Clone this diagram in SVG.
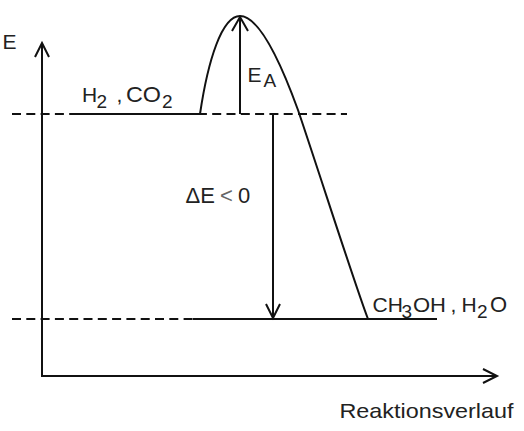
<svg xmlns="http://www.w3.org/2000/svg" width="524" height="431" viewBox="0 0 524 431">
<style>
.ln{stroke:#111;stroke-width:2;fill:none}
.dash{stroke:#111;stroke-width:2;fill:none;stroke-dasharray:9 5.3}
.ah{stroke:#111;stroke-width:2;fill:none;stroke-linejoin:miter}
text{font-family:"Liberation Sans",Arial,sans-serif;fill:#222;font-size:21px}
.sub{font-size:19px}
.big{font-size:22px}
</style>
<rect width="524" height="431" fill="#fff"/>
<g id="connectors">
<line class="dash" x1="12" y1="114" x2="347" y2="114"/>
<line class="dash" x1="12" y1="319" x2="193" y2="319"/>
<line class="ln" x1="42" y1="376" x2="42" y2="44"/>
<polyline class="ah" points="35,57 42,43 49,57"/>
<line class="ln" x1="41" y1="376" x2="496" y2="376"/>
<polyline class="ah" points="483,369 497,376 483,383"/>
<line class="ln" x1="240" y1="114" x2="240" y2="18"/>
<polyline class="ah" points="232,31 240,17 248,31"/>
<line class="ln" x1="273" y1="114" x2="273" y2="317"/>
<polyline class="ah" points="266,304 273,318 280,304"/>
</g>
<g id="educts">
<line class="ln" x1="70" y1="114" x2="200" y2="114"/>
<text y="102"><tspan x="82">H</tspan><tspan class="sub" x="96.5" y="108">2</tspan><tspan x="116.5" y="102">,</tspan><tspan class="big" x="126" y="102" textLength="35" lengthAdjust="spacingAndGlyphs">CO</tspan><tspan class="sub" x="162" y="108">2</tspan></text>
</g>
<g id="curve">
<path class="ln" d="M200,114 C208,60 222,16 240,16 C258,16 278,55 298,110 C320,175 355,285 368,319"/>
</g>
<g id="products">
<line class="ln" x1="193" y1="319" x2="437" y2="319"/>
<text y="312"><tspan x="372.5">CH</tspan><tspan class="sub" x="401.5" y="318">3</tspan><tspan x="413" y="312" textLength="33" lengthAdjust="spacingAndGlyphs">OH</tspan><tspan x="450.5">,</tspan><tspan x="461.5">H</tspan><tspan class="sub" x="477" y="318">2</tspan><tspan class="big" x="490" y="312">O</tspan></text>
</g>
<g id="labels">
<text x="2.5" y="49">E</text>
<text y="82"><tspan x="247.5">E</tspan><tspan class="sub" x="263.5" y="87" font-size="18">A</tspan></text>
<text class="big" y="203"><tspan x="185.5">ΔE</tspan><tspan x="220" fill="#666">&lt;</tspan><tspan x="238">0</tspan></text>
<text x="339.5" y="418" font-size="23" textLength="174" lengthAdjust="spacingAndGlyphs">Reaktionsverlauf</text>
</g>
</svg>
